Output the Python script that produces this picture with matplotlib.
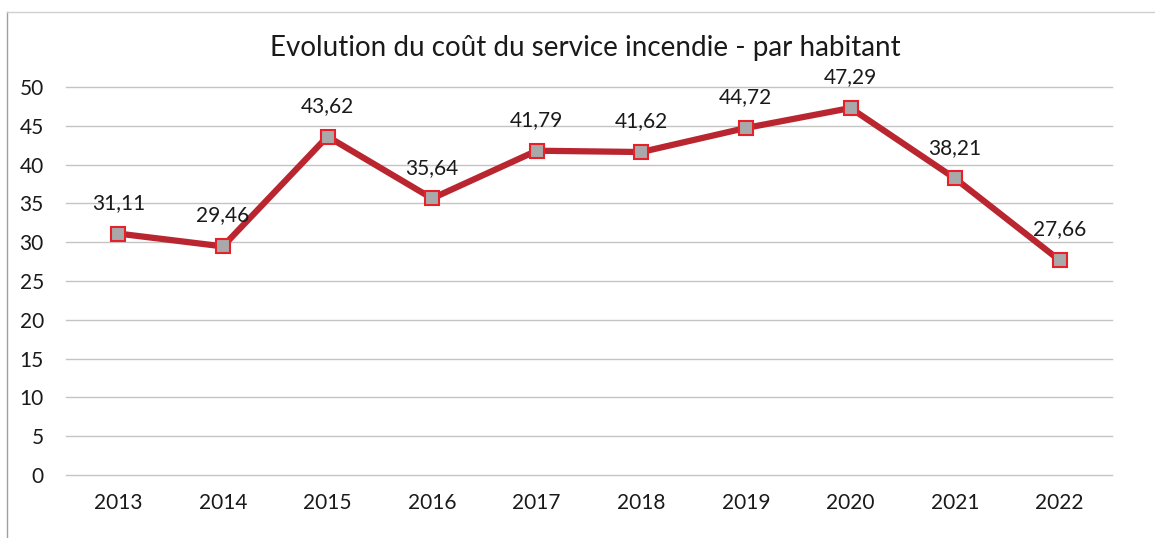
import matplotlib
matplotlib.use("Agg")
import matplotlib.pyplot as plt
from matplotlib.lines import Line2D

years = ["2013", "2014", "2015", "2016", "2017", "2018", "2019", "2020", "2021", "2022"]
values = [31.11, 29.46, 43.62, 35.64, 41.79, 41.62, 44.72, 47.29, 38.21, 27.66]
yticks = [0, 5, 10, 15, 20, 25, 30, 35, 40, 45, 50]
title = "Evolution du coût du service incendie - par habitant"

plt.rcParams['font.family'] = ['Lato', 'DejaVu Sans']

W, H = 1155, 538
fig = plt.figure(figsize=(W / 100, H / 100), dpi=100)
fig.patch.set_facecolor('white')

ax = fig.add_axes([66 / W, 1 - 475 / H, (1112 - 66) / W, (475 - 87) / H])
x = list(range(len(years)))
ax.plot(x, values, color='#BA2630', lw=4.5, marker='s', markersize=10,
        markerfacecolor='#A9A9A9', markeredgecolor='#E8202A', markeredgewidth=1.5,
        solid_joinstyle='round', zorder=3)
for xi, v in zip(x, values):
    ax.annotate(f"{v:.2f}".replace('.', ','), (xi, v), xytext=(0, 15),
                textcoords='offset points', ha='center', va='bottom',
                fontsize=15, color='#1a1a1a')

ax.set_xlim(-0.5, len(years) - 0.5)
ax.set_ylim(0, 50)
ax.set_yticks(yticks)
ax.set_yticklabels([str(t) for t in yticks], fontsize=15, color='#1a1a1a')
ax.set_xticks(x)
ax.set_xticklabels(years, fontsize=15, color='#1a1a1a')
ax.tick_params(length=0, pad=13)
ax.tick_params(axis='y', pad=16)
ax.grid(axis='y', color='#c4c4c4', lw=1)
for gl in ax.get_ygridlines():
    gl.set_clip_on(False)
ax.set_axisbelow(True)
for s in ax.spines.values():
    s.set_visible(False)

fig.text(585 / W, 1 - 48 / H, title, ha='center', va='center', fontsize=20, color='#1a1a1a')

# outer chart border
fig.add_artist(Line2D([7 / W, 7 / W], [0, 1 - 12 / H], color='#a0a0a0', lw=1))
fig.add_artist(Line2D([7 / W, 1], [1 - 12 / H, 1 - 12 / H], color='#d0d0d0', lw=1))

fig.savefig('out.png', dpi=100)
